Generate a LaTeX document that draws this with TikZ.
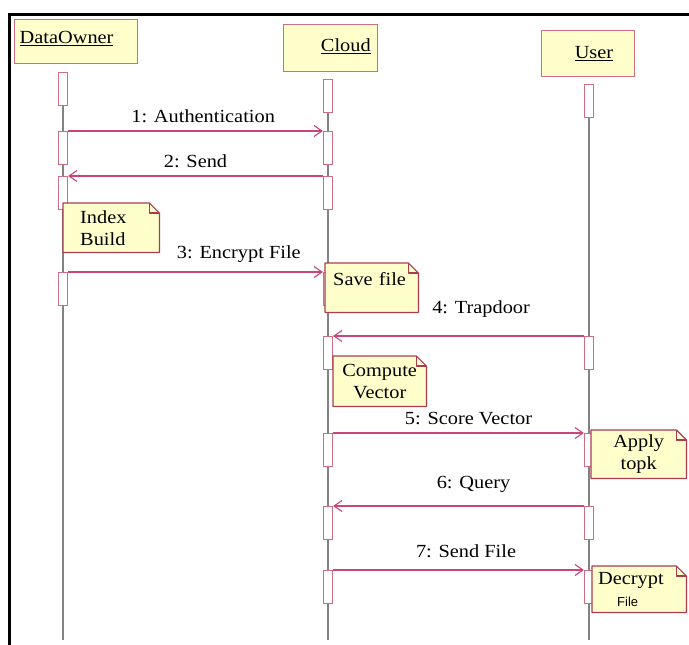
\documentclass[tikz,border=0pt]{standalone}
\usepackage{fontspec}
\setmainfont{Liberation Serif}[FakeStretch=1.1]
\setsansfont{Liberation Sans}
\usetikzlibrary{positioning,arrows.meta,backgrounds}
\definecolor{noteyellow}{RGB}{255,255,204}
\definecolor{headred}{RGB}{205,110,130}
\definecolor{notered}{RGB}{170,60,80}
\definecolor{msgpink}{RGB}{200,70,120}
\definecolor{lifegray}{RGB}{130,130,130}
\def\fsz{\fontsize{18.5}{22}\selectfont}

\begin{document}
\begin{tikzpicture}[x=1pt,y=-1pt,
  head/.style={draw=headred,fill=noteyellow,line width=1.4pt,anchor=north west,font=\fsz,inner sep=0pt},
  act/.style={draw=headred,fill=white,line width=1.1pt,minimum width=9pt,minimum height=33pt,inner sep=0pt,anchor=north},
  life/.style={draw=lifegray,line width=1.4pt},
  msg/.style={draw=msgpink,line width=1.1pt,-{Straight Barb[length=8pt,width=11pt]}},
  lbl/.style={font=\fsz,inner sep=0pt},
  note/.style={fill=noteyellow,anchor=north west,font=\fsz,inner sep=0pt,align=center},
  fold/.style={draw=notered,line width=1.2pt,line join=round}]

\useasboundingbox (0,0) rectangle (689,645);

% frame
\draw[line width=3pt] (9,645) -- (9,14) -- (689,14);

% heads
\node[head,minimum width=123pt,minimum height=44pt,text width=113pt,align=left,text depth=8pt] (owner) at (14,19) {\underline{DataOwner}};
\node[head,minimum width=94pt,minimum height=47pt,text width=80pt,align=right,text depth=6pt] (cloud) at (283,24) {\underline{Cloud}};
\node[head,minimum width=93pt,minimum height=46pt,text width=50pt,align=right,text depth=3pt] (user) at (541,30) {\underline{User}};

% activations
\foreach \n/\y in {1/72,2/131,3/176,4/272}
  \node[act] (o\n) at (63,\y) {};
\foreach \n/\y in {1/79,2/131,3/176,4/272,5/336,6/433,7/506,8/570}
  \node[act] (c\n) at (328,\y) {};
\foreach \n/\y in {1/84,2/336,3/433,4/506,5/570}
  \node[act] (u\n) at (589,\y) {};

\coordinate (oend) at (63,640);
\coordinate (cend) at (328,640);
\coordinate (uend) at (589,640);
\begin{scope}[on background layer]
\draw[life] (o1.north) -- (oend);
\draw[life] (c1.north) -- (cend);
\draw[life] (u1.north) -- (uend);
\end{scope}

% messages
\draw[msg] (o2.north east) -- (c2.north west) node[lbl,pos=0.53,above=8pt] {1: Authentication};
\draw[msg] (c3.north west) -- (o3.north east) node[lbl,pos=0.5,above=8pt] {2: Send};
\draw[msg] (o4.north east) -- (c4.north west) node[lbl,pos=0.67,above=9pt] {3: Encrypt File};
\draw[msg] (u2.north west) -- (c5.north east) node[lbl,pos=0.41,above=18pt] {4: Trapdoor};
\draw[msg] (c6.north east) -- (u3.north west) node[lbl,pos=0.54,above=8pt] {5: Score Vector};
\draw[msg] (u4.north west) -- (c7.north east) node[lbl,pos=0.44,above=13pt] {6: Query};
\draw[msg] (c8.north east) -- (u5.north west) node[lbl,pos=0.53,above=12pt] {7: Send File};

% notes
\node[note,minimum width=96pt,minimum height=49pt,text width=62pt,align=left] (nindex) at (63,203) {Index\\Build};
\node[note,minimum width=93pt,minimum height=49pt,text width=77pt,align=left,text depth=18pt] (nsave) at (325,263) {Save file};
\node[note,minimum width=93pt,minimum height=50pt,text width=85pt] (ncompute) at (333,356) {Compute\\Vector};
\node[note,minimum width=95pt,minimum height=48pt,text width=85pt] (ntopk) at (591,430) {Apply\\topk};
\node[note,minimum width=94pt,minimum height=46pt,text width=82pt,align=left] (ndecrypt) at (592,566) {Decrypt\\\hspace*{19pt}{\sffamily\fontsize{13}{15}\selectfont File}};

\foreach \n in {nindex,nsave,ncompute,ntopk,ndecrypt} {
  \fill[white] ([xshift=-10pt]\n.north east) -- (\n.north east) -- ([yshift=-10pt]\n.north east) -- cycle;
  \draw[fold] (\n.south west) -- (\n.north west) -- ([xshift=-10pt]\n.north east)
    -- ([yshift=-10pt]\n.north east) -- (\n.south east) -- cycle;
  \draw[fold] ([xshift=-10pt]\n.north east) |- ([yshift=-10pt]\n.north east);
}

\end{tikzpicture}
\end{document}
